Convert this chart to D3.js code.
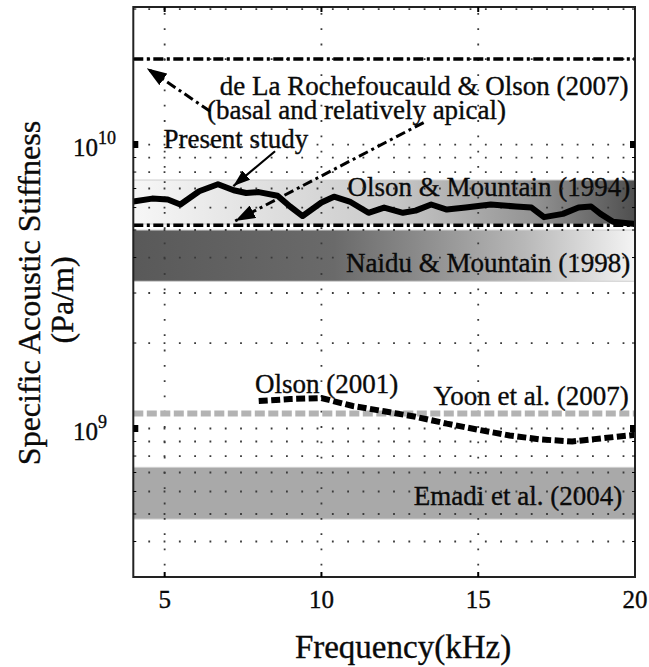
<!DOCTYPE html>
<html>
<head>
<meta charset="utf-8">
<script src="https://cdnjs.cloudflare.com/ajax/libs/d3/7.8.5/d3.min.js"></script>
<style>
  html, body { margin: 0; padding: 0; background: #fff; }
  svg { display: block; font-family: "Liberation Serif", "Times New Roman", serif; }
  svg text { fill: #0a0a0a; stroke: #0a0a0a; stroke-width: 0.35px; }
</style>
</head>
<body>
<div id="chart"></div>
<script>
// present study (kHz, Pa/m)
const presentFreq = [4.0, 4.6, 5.1, 5.5, 6.1, 6.7, 7.2, 7.6, 8.0, 8.6, 9.0, 9.4, 10.0, 10.4, 10.9, 11.5,
    12.0, 12.6, 13.0, 13.5, 14.0, 14.6, 15.4, 16.2, 16.7, 17.1, 17.7, 18.2, 18.6, 18.9, 19.3, 20.0];
const presentStiff = [6.3e9, 6.45e9, 6.4e9, 6.15e9, 6.85e9, 7.25e9, 6.9e9, 6.75e9, 6.8e9, 6.6e9, 6.05e9,
    5.6e9, 6.25e9, 6.55e9, 6.3e9, 5.75e9, 6.0e9, 5.75e9, 5.85e9, 6.15e9, 5.9e9, 6.0e9, 6.15e9, 6.05e9,
    6.0e9, 5.55e9, 5.7e9, 6.0e9, 6.05e9, 5.7e9, 5.35e9, 5.25e9];

// Olson (2001)
const olson2001Freq = [8, 9, 10, 11, 12, 13, 14, 15, 16, 17, 18, 19, 20];
const olson2001Stiff = [1.25e9, 1.27e9, 1.28e9, 1.2e9, 1.15e9, 1.1e9, 1.04e9, 0.99e9, 0.945e9, 0.915e9, 0.9e9, 0.925e9, 0.95e9];

// ranges from other studies
const bandNames = ['Olson & Mountain (1994)', 'Naidu & Mountain (1998)', 'Emadi et al. (2004)'];
const bandLow = [5.25e9, 3.3e9, 4.8e8];
const bandHigh = [7.5e9, 5.0e9, 7.3e8];

const rochefoucauldLevels = [2e10, 5.2e9];
const yoonLevel = 1.13e9;

const xTicks = [5, 10, 15, 20];
const xGrid = [5, 10, 15];
const yMajor = [1e9, 1e10];

const width = 649, height = 667;

const x = d3.scaleLinear().domain([4, 20]).range([133.3, 635]);
const y = d3.scaleLog().domain([3e8, 3.05e10]).range([577, 7]);

const svg = d3.select('#chart').append('svg')
    .attr('width', width)
    .attr('height', height);

const defs = svg.append('defs');

function gradient(id, stops) {
    const g = defs.append('linearGradient').attr('id', id)
        .attr('x1', '0%').attr('x2', '100%').attr('y1', '0%').attr('y2', '0%');
    stops.forEach(s => g.append('stop').attr('offset', s[0]).attr('stop-color', s[1]));
}
gradient('gOlson', [[0, '#f7f7f7'], [0.5, '#cbcbcb'], [0.8, '#939393'], [1, '#4f4f4f']]);
gradient('gNaidu', [[0, '#595959'], [0.4, '#6a6a6a'], [0.55, '#878787'], [0.78, '#b8b8b8'], [1, '#f4f4f4']]);
const bandFill = ['url(#gOlson)', 'url(#gNaidu)', '#a9a9a9'];

function arrowMarker(id, len, wid) {
    defs.append('marker').attr('id', id)
        .attr('markerUnits', 'userSpaceOnUse')
        .attr('viewBox', `0 0 ${len} ${wid}`)
        .attr('markerWidth', len).attr('markerHeight', wid)
        .attr('refX', len).attr('refY', wid / 2)
        .attr('orient', 'auto')
        .append('path')
        .attr('d', `M0,0L${len},${wid / 2}L0,${wid}Z`)
        .attr('fill', '#000');
}
arrowMarker('headSolid', 17, 12);
arrowMarker('headDash', 20, 14);

const x0 = x.range()[0], x1 = x.range()[1],
    yTop = y.range()[1], yBot = y.range()[0];

// bands
svg.append('g').selectAll('rect')
    .data(bandNames)
    .join('rect')
    .attr('x', x0)
    .attr('width', x1 - x0)
    .attr('y', (d, i) => y(bandHigh[i]))
    .attr('height', (d, i) => y(bandLow[i]) - y(bandHigh[i]))
    .attr('fill', (d, i) => bandFill[i])
    .attr('stroke', '#cfcfcf')
    .attr('stroke-width', 1);

// text labels (in data units)
const labels = [
    {t: 'de La Rochefoucauld & Olson (2007)', f: 19.79, v: 1.49e10, a: 'end'},
    {t: '(basal and relatively apical)', f: 6.35, v: 1.23e10, a: 'start'},
    {t: 'Present study', f: 4.96, v: 9.73e9, a: 'start'},
    {t: bandNames[0], f: 19.85, v: 6.59e9, a: 'end'},
    {t: bandNames[1], f: 19.85, v: 3.555e9, a: 'end'},
    {t: 'Olson (2001)', f: 7.88, v: 1.338e9, a: 'start'},
    {t: 'Yoon et al. (2007)', f: 19.8, v: 1.207e9, a: 'end'},
    {t: bandNames[2], f: 19.59, v: 5.38e8, a: 'end'},
];
svg.append('g').selectAll('text')
    .data(labels)
    .join('text')
    .attr('x', d => x(d.f))
    .attr('y', d => y(d.v))
    .attr('text-anchor', d => d.a)
    .style('font-size', '27px')
    .text(d => d.t);

// dotted grid
const grid = svg.append('g')
    .attr('stroke', '#3a3a3a')
    .attr('stroke-width', 1.8)
    .attr('stroke-dasharray', '1.8,13.5');
grid.selectAll('.hg')
    .data(y.ticks().filter(v => y(v) < yBot - 2))
    .join('line')
    .attr('x1', x0 + 15).attr('x2', x1)
    .attr('y1', d => y(d)).attr('y2', d => y(d));
grid.selectAll('.vg')
    .data(xGrid)
    .join('line')
    .attr('x1', d => x(d)).attr('x2', d => x(d))
    .attr('y1', yTop + 6).attr('y2', yBot);

// reference lines
svg.append('g').selectAll('line')
    .data(rochefoucauldLevels)
    .join('line')
    .attr('x1', x0).attr('x2', x1)
    .attr('y1', d => y(d)).attr('y2', d => y(d))
    .attr('stroke', '#000')
    .attr('stroke-width', 3.5)
    .attr('stroke-dasharray', '10,3.5,3,3.5');

svg.append('line')
    .attr('x1', x0).attr('x2', x1)
    .attr('y1', y(yoonLevel)).attr('y2', y(yoonLevel))
    .attr('stroke', '#b3b3b3')
    .attr('stroke-width', 6)
    .attr('stroke-dasharray', '10,3.5');

const line = d3.line()
    .x(d => x(d[0]))
    .y(d => y(d[1]));

svg.append('path')
    .datum(d3.zip(olson2001Freq, olson2001Stiff))
    .attr('d', line)
    .attr('fill', 'none')
    .attr('stroke', '#000')
    .attr('stroke-width', 6)
    .attr('stroke-dasharray', '9,3.5');

svg.append('path')
    .datum(d3.zip(presentFreq, presentStiff))
    .attr('d', line)
    .attr('fill', 'none')
    .attr('stroke', '#000')
    .attr('stroke-width', 6)
    .attr('stroke-linejoin', 'round');

// arrows
const arrows = [
    {from: [8.52, 9.47e9], to: [7.19, 7.14e9], dash: null},
    {from: [6.45, 1.309e10], to: [4.43, 1.858e10], dash: '10,4,3,4'},
    {from: [13.26, 1.195e10], to: [7.25, 5.38e9], dash: '10,4,3,4'},
];
svg.append('g').selectAll('line')
    .data(arrows)
    .join('line')
    .attr('x1', d => x(d.from[0])).attr('y1', d => y(d.from[1]))
    .attr('x2', d => x(d.to[0])).attr('y2', d => y(d.to[1]))
    .attr('stroke', '#000')
    .attr('stroke-width', d => d.dash ? 3 : 2.2)
    .attr('stroke-dasharray', d => d.dash)
    .attr('marker-end', d => d.dash ? 'url(#headDash)' : 'url(#headSolid)');

// frame
svg.append('rect')
    .attr('x', x0).attr('y', yTop)
    .attr('width', x1 - x0).attr('height', yBot - yTop)
    .attr('fill', 'none')
    .attr('stroke', '#222')
    .attr('stroke-width', 2);

// ticks
const ticks = svg.append('g').attr('stroke', '#000');
ticks.selectAll('.xt')
    .data(xGrid)
    .join('path')
    .attr('d', d => `M${x(d)},${yBot}v-5M${x(d)},${yTop}v5`)
    .attr('stroke-width', 2);
ticks.selectAll('.ymin')
    .data(y.ticks().filter(v => !yMajor.includes(v) && y(v) < yBot - 2 && y(v) > yTop + 2))
    .join('path')
    .attr('d', d => `M${x0},${y(d)}h3M${x1},${y(d)}h-3`)
    .attr('stroke-width', 1);
ticks.selectAll('.ymaj')
    .data(yMajor)
    .join('path')
    .attr('d', d => `M${x0},${y(d)}h5M${x1},${y(d)}h-5`)
    .attr('stroke-width', 7);

// tick labels
svg.append('g').selectAll('text')
    .data(xTicks)
    .join('text')
    .attr('x', d => x(d))
    .attr('y', 608)
    .attr('text-anchor', 'middle')
    .style('font-size', '25px')
    .text(d => d);

const ylab = svg.append('g').selectAll('text')
    .data(yMajor)
    .join('text')
    .attr('x', 73)
    .attr('y', d => y(d) + 11)
    .style('font-size', '25px');
ylab.append('tspan').text('10');
ylab.append('tspan')
    .attr('dy', -12)
    .style('font-size', '18px')
    .text(d => Math.round(Math.log10(d)));

// axis titles
svg.append('text')
    .attr('x', 403).attr('y', 658)
    .attr('text-anchor', 'middle')
    .style('font-size', '33px')
    .text('Frequency(kHz)');

svg.append('text')
    .attr('transform', 'translate(40,293) rotate(-90)')
    .attr('text-anchor', 'middle')
    .style('font-size', '32px')
    .text('Specific Acoustic Stiffness');

svg.append('text')
    .attr('transform', 'translate(73,300) rotate(-90)')
    .attr('text-anchor', 'middle')
    .style('font-size', '32px')
    .text('(Pa/m)');
</script>
</body>
</html>
